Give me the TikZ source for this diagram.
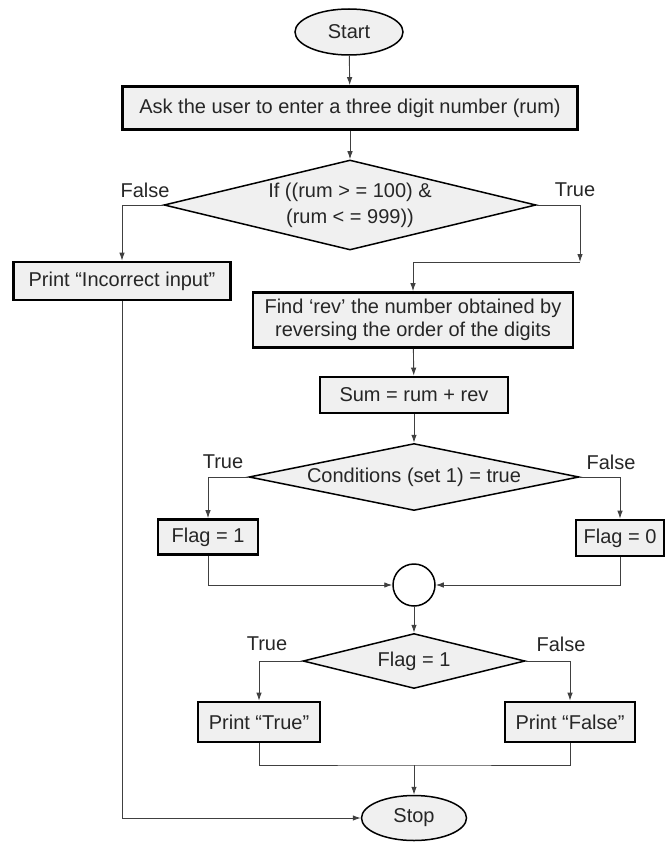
\documentclass[tikz,border=0pt]{standalone}
\usepackage{fontspec}
\setmainfont{Liberation Sans}
\usepackage{xcolor}
\usetikzlibrary{shapes.geometric, arrows.meta, positioning, calc}

\begin{document}
\begin{tikzpicture}[x=1pt, y=-1pt,
    font=\fontsize{20}{23}\selectfont, text=black!85,
    >={Latex[length=8pt, width=5.5pt]},
    box/.style={draw, rectangle, line width=2.6pt, fill=gray!12, inner sep=0pt},
    decision/.style={draw, diamond, line width=1.5pt, fill=gray!12, inner sep=0pt},
    term/.style={draw, ellipse, line width=1.5pt, fill=gray!12, inner sep=0pt},
    line/.style={line width=0.9pt, draw=black!75},
    lbl/.style={inner sep=0pt}]
    \useasboundingbox (0,0) rectangle (666,842);

    \node[term, minimum width=108, minimum height=46] (start) at (349,32) {Start};
    \node[box, minimum width=455, minimum height=43] (ask) at (350,108) {Ask the user to enter a three digit number (rum)};
    \node[decision, minimum width=372, minimum height=90, aspect=4.1, align=center] (cond1) at (350,205) {If ((rum > = 100) \&\\[3pt](rum < = 999))};
    \node[box, minimum width=217, minimum height=38] (wrong) at (122,281) {Print “Incorrect input”};
    \node[box, minimum width=320, minimum height=55, align=center] (rev) at (413,320) {Find ‘rev’ the number obtained by\\reversing the order of the digits};
    \node[box, minimum width=188, minimum height=36] (sum) at (414,395) {Sum = rum + rev};
    \node[decision, minimum width=330, minimum height=67, aspect=4.9] (cond2) at (414,477) {Conditions (set 1) = true};
    \node[box, minimum width=100, minimum height=35] (flag1) at (208,537) {Flag = 1};
    \node[box, minimum width=88, minimum height=36] (flag0) at (620,538) {Flag = 0};
    \node[draw, circle, line width=1.5pt, fill=white, minimum size=42] (join) at (414,585) {};
    \node[decision, minimum width=222, minimum height=55, aspect=4] (cond3) at (414,661) {Flag = 1};
    \node[box, minimum width=122, minimum height=40] (ptrue) at (259,722) {Print “True”};
    \node[box, minimum width=130, minimum height=40] (pfalse) at (570,722) {Print “False”};
    \node[term, minimum width=105, minimum height=45] (stop) at (414,818) {Stop};

    % branch labels
    \node[lbl] (f1) at (145,190) {False};
    \node[lbl] (t1) at (575,190) {True};
    \node[lbl] (t2) at (223,462) {True};
    \node[lbl] (f2) at (611,462) {False};
    \node[lbl] (t3) at (267,644) {True};
    \node[lbl] (f3) at (561,644) {False};

    \coordinate (c1) at (580,262);
    \coordinate (m) at (414,765);

    \draw[->, line] (start) -- (ask);
    \draw[->, line] (ask) -- (cond1);
    \draw[->, line] (cond1.west) -| (wrong.north);
    \draw[->, line] (cond1.east) -| (c1);
    \draw[->, line] (c1) -| (rev.north);
    \draw[->, line] (wrong.south) |- (stop.west);
    \draw[->, line] (rev) -- (sum);
    \draw[->, line] (sum) -- (cond2);
    \draw[->, line] (cond2.west) -| (flag1.north);
    \draw[->, line] (cond2.east) -| (flag0.north);
    \draw[->, line] (flag1.south) |- (join.west);
    \draw[->, line] (flag0.south) |- (join.east);
    \draw[->, line] (join) -- (cond3);
    \draw[->, line] (cond3.west) -| (ptrue.north);
    \draw[->, line] (cond3.east) -| (pfalse.north);
    \draw[line] (ptrue.south) |- (m) -| (pfalse.south);
    \draw[->, line] (m) -- (stop);
\end{tikzpicture}
\end{document}
